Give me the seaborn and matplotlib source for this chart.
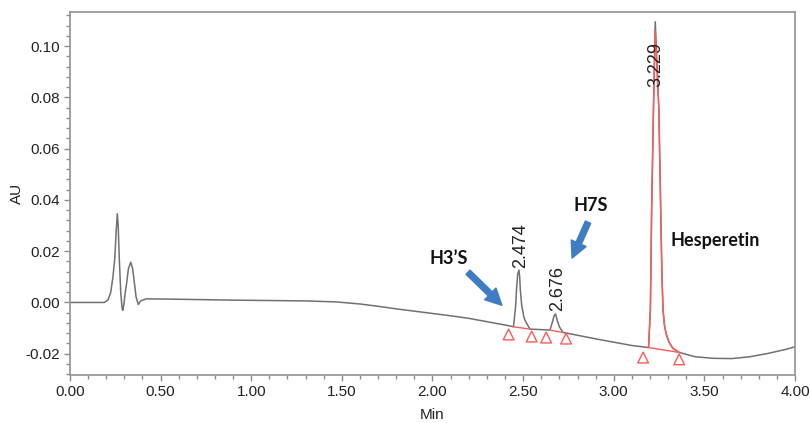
import numpy as np
import pandas as pd
import matplotlib.pyplot as plt
import seaborn as sns

# chromatogram trace (retention time in min, absorbance in AU)
trace_t = [0.00, 0.10, 0.19, 0.21, 0.225, 0.237, 0.247, 0.255, 0.261, 0.266, 0.272, 0.28,
           0.287, 0.291, 0.297, 0.305, 0.313, 0.322, 0.335, 0.345, 0.355, 0.365, 0.377,
           0.39, 0.42, 0.55, 0.90, 1.30, 1.47, 1.60, 1.70, 1.80, 1.90, 2.00, 2.10, 2.20,
           2.30, 2.40, 2.447, 2.459, 2.464, 2.470, 2.477, 2.481, 2.484, 2.492, 2.505,
           2.515, 2.538, 2.60, 2.648, 2.660, 2.672, 2.679, 2.688, 2.700, 2.720, 2.80,
           2.90, 3.00, 3.10, 3.192, 3.202, 3.209, 3.219, 3.229, 3.249, 3.259, 3.266,
           3.272, 3.280, 3.290, 3.305, 3.325, 3.361, 3.45, 3.55, 3.65, 3.75, 3.85, 3.95,
           4.00]
trace_au = [0.0000, 0.0000, 0.0000, 0.0010, 0.0040, 0.0100, 0.0170, 0.0280, 0.0346, 0.0300,
            0.0170, 0.0040, -0.0020, -0.0031, -0.0010, 0.0040, 0.0078, 0.0130, 0.0157,
            0.0135, 0.0078, 0.0020, -0.0008, 0.0006, 0.0014, 0.0013, 0.0009, 0.0006,
            0.0002, -0.0006, -0.0015, -0.0025, -0.0034, -0.0043, -0.0052, -0.0062,
            -0.0075, -0.0088, -0.0095, -0.0010, 0.0055, 0.0110, 0.0126, 0.0100, 0.0055,
            -0.0010, -0.0060, -0.0076, -0.0104, -0.0106, -0.0108, -0.0080, -0.0050,
            -0.0045, -0.0070, -0.0095, -0.0117, -0.0128, -0.0142, -0.0155, -0.0168,
            -0.0176, -0.0030, 0.0360, 0.0750, 0.1095, 0.0750, 0.0360, 0.0100,
            -0.0030, -0.0090, -0.0125, -0.0155, -0.0178, -0.0195, -0.0212, -0.0218,
            -0.0219, -0.0212, -0.0199, -0.0183, -0.0173]

# integrated hesperetin peak (drawn in red)
hesp_t = [3.192, 3.202, 3.209, 3.219, 3.228, 3.249, 3.259, 3.266, 3.272, 3.280, 3.290,
          3.305, 3.325, 3.361]
hesp_au = [-0.0176, -0.0030, 0.0360, 0.0750, 0.1062, 0.0750, 0.0360, 0.0100, -0.0030,
           -0.0090, -0.0125, -0.0155, -0.0178, -0.0195]

# integration baselines (start/end of each peak)
base_start_t = [2.447, 2.648, 3.192]
base_start_au = [-0.0095, -0.0108, -0.0176]
base_end_t = [2.538, 2.720, 3.361]
base_end_au = [-0.0104, -0.0117, -0.0195]

# peak start / end markers
mark_t = [2.420, 2.547, 2.627, 2.737, 3.162, 3.361]
mark_au = [-0.0125, -0.0133, -0.0137, -0.0141, -0.0215, -0.0222]

# retention time labels
peak_rt = [2.474, 2.676, 3.229]
peak_label_au = [0.0135, -0.0035, 0.1017]

compounds = ["H3\u2019S", "H7S", "Hesperetin"]

sns.set_theme(style="white")
plt.rcParams['font.family'] = ['Liberation Sans Narrow', 'Liberation Sans', 'DejaVu Sans']

fig = plt.figure(figsize=(8.1, 4.23), dpi=100)
ax = fig.add_axes([0.0864, 0.1135, 0.8951, 0.8581])

red = "#FF5A5A"
gray = "#707070"

df = pd.DataFrame({"t": trace_t, "au": trace_au})
sns.lineplot(data=df, x="t", y="au", ax=ax, color=gray, lw=1.1, sort=False, estimator=None)

hesp = pd.DataFrame({"t": hesp_t, "au": hesp_au})
sns.lineplot(data=hesp, x="t", y="au", ax=ax, color=red, lw=1.0, sort=False, estimator=None)

for t0, a0, t1, a1 in zip(base_start_t, base_start_au, base_end_t, base_end_au):
    ax.plot([t0, t1], [a0, a1], color=red, lw=1.0)

sns.scatterplot(x=mark_t, y=mark_au, ax=ax, marker="^", s=60, facecolor="none",
                edgecolor=red, linewidth=1.0, zorder=5)

# retention time labels
for rt, ya in zip(peak_rt[:2], peak_label_au[:2]):
    ax.text(rt + 0.012, ya, f"{rt:.3f}", rotation=90, ha="center", va="bottom",
            fontsize=13, color="#222222", family=['Liberation Sans', 'DejaVu Sans'])
ax.text(peak_rt[2] + 0.005, peak_label_au[2], f"{peak_rt[2]:.3f}", rotation=90,
        ha="center", va="top", fontsize=13, color="#222222",
        family=['Liberation Sans', 'DejaVu Sans'])

# compound labels and arrows
blue = "#3F7CC4"
bold = dict(fontsize=13, fontweight="bold", color="#111111", family=['Lato', 'DejaVu Sans'])
ax.text(2.09, 0.0171, compounds[0], ha="center", va="center", **bold)
ax.text(2.875, 0.0379, compounds[1], ha="center", va="center", **bold)
ax.text(3.56, 0.0241, compounds[2], ha="center", va="center", **bold)

arrow = dict(arrowstyle="simple,head_length=0.9,head_width=0.9,tail_width=0.32",
             color=blue, mutation_scale=13, shrinkA=0, shrinkB=0)
ax.annotate("", xy=(2.383, -0.0011), xytext=(2.196, 0.0118), arrowprops=arrow)
ax.annotate("", xy=(2.770, 0.0173), xytext=(2.858, 0.0313), arrowprops=arrow)

ax.set_xlim(0, 4)
ax.set_ylim(-0.0283, 0.1133)
ax.set_xticks(np.arange(0, 4.01, 0.5))
ax.set_xticks(np.arange(0, 4.01, 0.1), minor=True)
ax.set_yticks(np.arange(-0.02, 0.101, 0.02))
ax.set_yticks(np.arange(-0.028, 0.113, 0.004), minor=True)
ax.set_xticklabels([f"{v:.2f}" for v in np.arange(0, 4.01, 0.5)])
ax.set_yticklabels([f"{v:.2f}" for v in np.arange(-0.02, 0.101, 0.02)])
ax.tick_params(which="both", direction="out", color="#8C8C8C", labelsize=11,
               labelcolor="#222222", bottom=True, left=True)
ax.tick_params(which="major", length=4, width=1)
ax.tick_params(which="minor", length=3, width=1)

for sp in ax.spines.values():
    sp.set_color("#9A9A9A")
    sp.set_linewidth(1.3)

ax.set_xlabel("Min", fontsize=11, color="#222222", labelpad=6)
ax.set_ylabel("AU", fontsize=11, color="#222222")
ax.yaxis.set_label_coords(-0.063, 0.5)

fig.savefig("out.png", dpi=100)
